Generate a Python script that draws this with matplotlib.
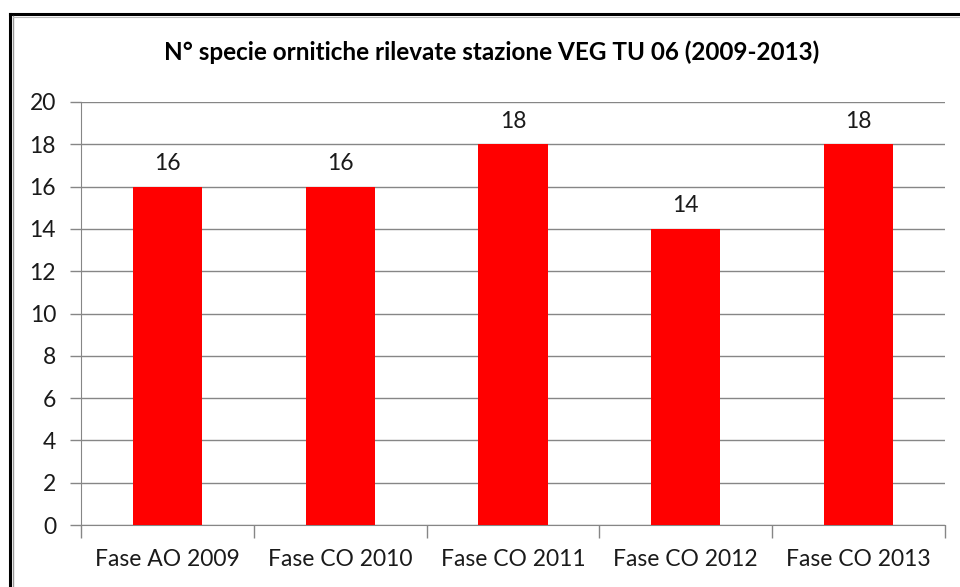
import matplotlib.pyplot as plt
from matplotlib.lines import Line2D

# dati
fasi = ['Fase AO 2009', 'Fase CO 2010', 'Fase CO 2011', 'Fase CO 2012', 'Fase CO 2013']
n_specie = [16, 16, 18, 14, 18]
y_ticks = [0, 2, 4, 6, 8, 10, 12, 14, 16, 18, 20]

plt.rcParams['font.family'] = ['Lato', 'DejaVu Sans']

W, H = 960, 587
fig = plt.figure(figsize=(W / 100, H / 100), dpi=100)
ax = fig.add_axes([81 / W, 1 - 525 / H, (945 - 81) / W, (525 - 102) / H])

x = list(range(len(fasi)))
ax.bar(x, n_specie, width=0.4, color='#ff0000', zorder=3)
for xi, v in zip(x, n_specie):
    ax.annotate(str(v), (xi, v), xytext=(0, 9), textcoords='offset points',
                ha='center', va='bottom', fontsize=16.5, color='#1a1a1a')

ax.set_xlim(-0.5, len(fasi) - 0.5)
ax.set_ylim(0, 20)
ax.set_yticks(y_ticks)
ax.set_xticks(x)
ax.set_xticklabels(fasi)
ax.set_xticks([i - 0.5 for i in range(len(fasi) + 1)], minor=True)
ax.tick_params(axis='x', which='major', length=0, pad=17, labelsize=16.5, labelcolor='#1a1a1a')
ax.tick_params(axis='x', which='minor', length=9, color='#868686', width=1)
ax.tick_params(axis='y', length=8, color='#868686', width=1, pad=10, labelsize=16.5, labelcolor='#1a1a1a')
ax.grid(axis='y', color='#868686', linewidth=1, zorder=0)

for s in ['top', 'right']:
    ax.spines[s].set_visible(False)
for s in ['left', 'bottom']:
    ax.spines[s].set_color('#868686')

fig.text(492 / W, 1 - 52 / H, 'N° specie ornitiche rilevate stazione VEG TU 06 (2009-2013)',
         ha='center', va='center', fontsize=17.5, fontweight='bold', color='#000000')

# cornice
fig.add_artist(Line2D([10 / W, 1], [1 - 14 / H] * 2, color='black', linewidth=2.2, transform=fig.transFigure))
fig.add_artist(Line2D([10 / W] * 2, [0, 1 - 14 / H], color='black', linewidth=2.2, transform=fig.transFigure))
fig.add_artist(Line2D([13 / W] * 2, [0, 1 - 16 / H], color='#999999', linewidth=1, transform=fig.transFigure))
fig.add_artist(Line2D([13 / W, 1], [1 - 16.5 / H] * 2, color='#bbbbbb', linewidth=0.8, transform=fig.transFigure))

fig.savefig('out.png', dpi=100)
